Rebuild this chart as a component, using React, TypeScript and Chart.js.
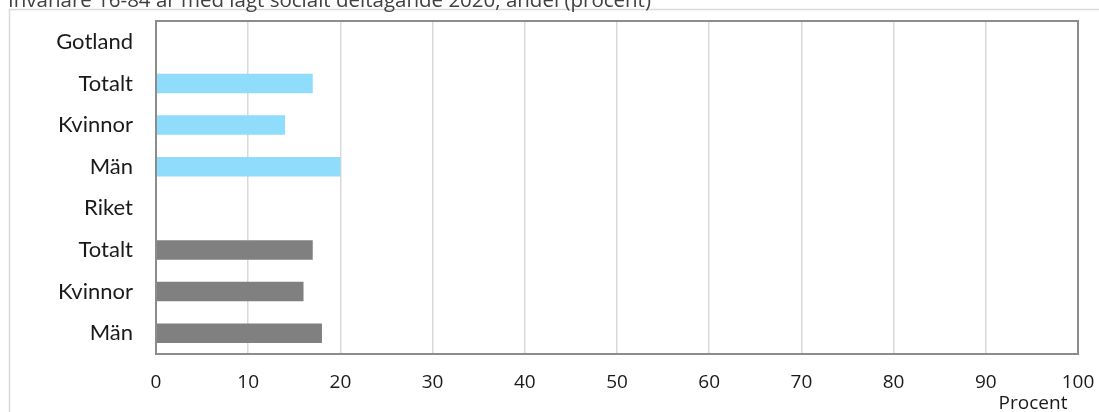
import React, { useEffect, useRef } from "react";
import { Chart, registerables } from "chart.js";

Chart.register(...registerables);

const TITLE = "Invånare 16-84 år med lågt socialt deltagande 2020, andel (procent)";
const AXIS_TITLE = "Procent";
const categories = ["Gotland", "Totalt", "Kvinnor", "Män", "Riket", "Totalt", "Kvinnor", "Män"];
const values: (number | null)[] = [null, 17, 14, 20, null, 17, 16, 18];
const barColors = ["#8fdcfc", "#8fdcfc", "#8fdcfc", "#8fdcfc", "#808080", "#808080", "#808080", "#808080"];
const xMin = 0;
const xMax = 100;
const xStep = 10;

const W = 1099;
const H = 412;

export default function App() {
  const ref = useRef<HTMLCanvasElement | null>(null);
  useEffect(() => {
    if (!ref.current) return;
    const decor = {
      id: "decor",
      beforeDraw(chart: any) {
        const ctx = chart.ctx;
        ctx.save();
        ctx.fillStyle = "#ffffff";
        ctx.fillRect(0, 0, W, H);
        ctx.strokeStyle = "#d9d9d9";
        ctx.lineWidth = 1.5;
        ctx.beginPath();
        ctx.moveTo(9.5, H + 2);
        ctx.lineTo(9.5, 9.5);
        ctx.lineTo(W + 2, 9.5);
        ctx.stroke();
        ctx.fillStyle = "#404040";
        ctx.font = "20.5px 'Open Sans'";
        ctx.textBaseline = "alphabetic";
        ctx.textAlign = "left";
        ctx.fillText(TITLE, 8, 7);
        ctx.restore();
      },
      afterDraw(chart: any) {
        const ctx = chart.ctx;
        const a = chart.chartArea;
        ctx.save();
        ctx.strokeStyle = "#8c8c8c";
        ctx.lineWidth = 2;
        ctx.strokeRect(a.left, a.top, a.right - a.left, a.bottom - a.top);
        ctx.fillStyle = "#1a1a1a";
        ctx.font = "19px 'Open Sans'";
        ctx.textAlign = "center";
        ctx.textBaseline = "alphabetic";
        ctx.fillText(AXIS_TITLE, 1033, 409);
        ctx.restore();
      },
    };
    const chart = new Chart(ref.current, {
      type: "bar",
      data: {
        labels: categories,
        datasets: [
          {
            data: values as any,
            backgroundColor: barColors,
            borderWidth: 0,
            categoryPercentage: 1,
            barPercentage: 0.47,
          },
        ],
      },
      options: {
        indexAxis: "y",
        animation: false,
        responsive: false,
        maintainAspectRatio: false,
        layout: { padding: { left: 0, top: 21, right: 21, bottom: 0 } },
        plugins: {
          legend: { display: false },
          title: { display: false },
          tooltip: { enabled: false },
        },
        scales: {
          x: {
            min: xMin,
            max: xMax,
            ticks: {
              stepSize: xStep,
              padding: 17,
              color: "#1a1a1a",
              font: { family: "'Open Sans'", size: 19 },
              maxRotation: 0,
            },
            grid: { color: "#d9d9d9", lineWidth: 1.5, drawTicks: false },
            border: { display: true, color: "#8c8c8c", width: 2 },
            afterFit(scale: any) {
              scale.height = 58;
              scale.paddingLeft = 0;
              scale.paddingRight = 0;
              scale.paddingTop = 0;
              scale.paddingBottom = 0;
            },
          },
          y: {
            ticks: {
              padding: 23,
              color: "#1a1a1a",
              font: { family: "Lato", size: 22 },
              autoSkip: false,
            },
            grid: { display: false, drawTicks: false },
            border: { display: true, color: "#8c8c8c", width: 2 },
            afterFit(scale: any) {
              scale.width = 156;
              scale.paddingLeft = 0;
              scale.paddingRight = 0;
              scale.paddingTop = 0;
              scale.paddingBottom = 0;
            },
          },
        },
      },
      plugins: [decor],
    });
    return () => chart.destroy();
  }, []);
  return (
    <div style={{ position: "fixed", left: 0, top: 0, width: W, height: H, background: "#fff" }}>
      <canvas ref={ref} width={W} height={H} style={{ width: W, height: H, display: "block" }} />
    </div>
  );
}
